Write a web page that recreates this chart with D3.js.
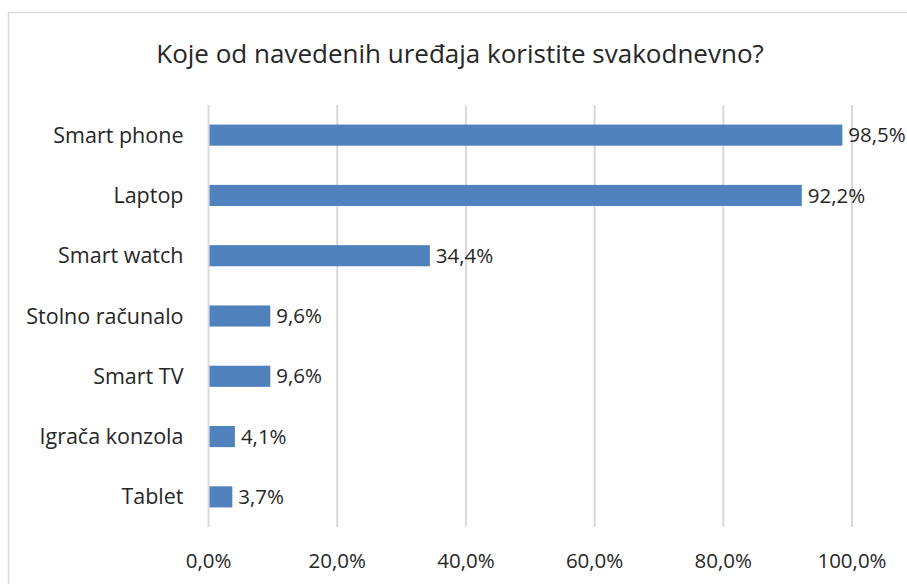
<!DOCTYPE html>
<html>
<head>
<meta charset="utf-8">
<script src="https://d3js.org/d3.v7.min.js"></script>
<style>
  body { margin: 0; background: #fff; }
  svg text { font-family: "Open Sans", "Noto Sans", sans-serif; fill: #262626; }
</style>
</head>
<body>
<div id="chart"></div>
<script>
// data
var categories = ["Smart phone", "Laptop", "Smart watch", "Stolno računalo", "Smart TV", "Igrača konzola", "Tablet"];
var values = [98.5, 92.2, 34.4, 9.6, 9.6, 4.1, 3.7];
var xTicks = [0, 20, 40, 60, 80, 100];
var title = "Koje od navedenih uređaja koristite svakodnevno?";

var W = 907, H = 584;
var margin = {top: 105, right: 55, bottom: 57, left: 208.5};
var width = W - margin.left - margin.right,
    height = H - margin.top - margin.bottom;

var fmt = function (v) { return v.toFixed(1).replace(".", ",") + "%"; };

var svg = d3.select("#chart").append("svg")
    .attr("width", W)
    .attr("height", H);

// chart frame
svg.append("rect")
    .attr("x", 8.5).attr("y", 12.5)
    .attr("width", 920).attr("height", 600)
    .attr("fill", "none")
    .attr("stroke", "#d9d9d9")
    .attr("stroke-width", 1.5);

svg.append("text")
    .attr("x", 460).attr("y", 63)
    .attr("text-anchor", "middle")
    .style("font-size", "26px")
    .text(title);

var g = svg.append("g")
    .attr("transform", "translate(" + margin.left + "," + margin.top + ")");

var x = d3.scaleLinear().domain([0, 100]).range([0, width]);
var y = d3.scaleBand().domain(categories).range([0, height]).paddingInner(0.65).paddingOuter(0.325);

// gridlines
g.selectAll(".grid")
    .data(xTicks)
    .enter().append("line")
    .attr("class", "grid")
    .attr("x1", function (d) { return x(d); })
    .attr("x2", function (d) { return x(d); })
    .attr("y1", 0).attr("y2", height)
    .attr("stroke", "#d9d9d9")
    .attr("stroke-width", 2);

// x tick labels
g.selectAll(".xlab")
    .data(xTicks)
    .enter().append("text")
    .attr("class", "xlab")
    .attr("x", function (d) { return x(d); })
    .attr("y", height + 41)
    .attr("text-anchor", "middle")
    .style("font-size", "20.5px")
    .text(function (d) { return fmt(d); });

// bars
g.selectAll(".bar")
    .data(values)
    .enter().append("rect")
    .attr("class", "bar")
    .attr("x", x(0) + 1)
    .attr("y", function (d, i) { return y(categories[i]); })
    .attr("width", function (d) { return x(d) - x(0) - 1; })
    .attr("height", y.bandwidth())
    .attr("fill", "#4f81bd");

// category labels
g.selectAll(".ylab")
    .data(categories)
    .enter().append("text")
    .attr("class", "ylab")
    .attr("x", -25)
    .attr("y", function (d) { return y(d) + y.bandwidth() / 2; })
    .attr("dy", "0.35em")
    .attr("text-anchor", "end")
    .style("font-size", "21.5px")
    .text(function (d) { return d; });

// value labels
g.selectAll(".vlab")
    .data(values)
    .enter().append("text")
    .attr("class", "vlab")
    .attr("x", function (d) { return x(d) + 6; })
    .attr("y", function (d, i) { return y(categories[i]) + y.bandwidth() / 2; })
    .attr("dy", "0.35em")
    .style("font-size", "20.5px")
    .text(function (d) { return fmt(d); });
</script>
</body>
</html>
